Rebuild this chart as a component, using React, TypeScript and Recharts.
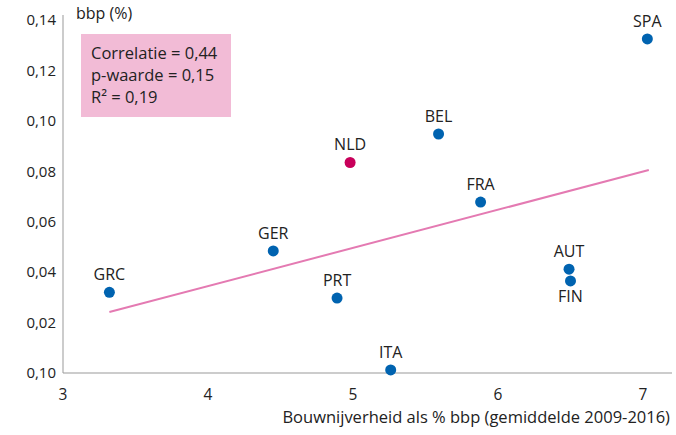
import React from "react";
import {
  ScatterChart,
  Scatter,
  XAxis,
  YAxis,
  Label,
  Customized,
} from "recharts";

const countries = ["GRC", "GER", "PRT", "NLD", "ITA", "BEL", "FRA", "AUT", "FIN", "SPA"];
const bouwPct = [3.32, 4.45, 4.89, 4.98, 5.26, 5.59, 5.88, 6.49, 6.5, 7.03];
const bbpEffect = [0.032, 0.0484, 0.0297, 0.0835, 0.0012, 0.0948, 0.0678, 0.0412, 0.0365, 0.1325];

const trendX = [3.32, 7.04];
const trendY = [0.0242, 0.0805];

const xTicks = [3, 4, 5, 6, 7];
const yTicks = [0, 0.02, 0.04, 0.06, 0.08, 0.1, 0.12, 0.14];
const yTickLabels = ["0,10", "0,02", "0,04", "0,06", "0,08", "0,10", "0,12", "0,14"];

const statLines = ["Correlatie = 0,44", "p-waarde = 0,15", "R\u00b2 = 0,19"];

const FONT = "'Open Sans', sans-serif";
const TEXT = "#222";
const BLUE = "#0063b0";
const RED = "#c8005a";

const points = countries.map((name, i) => ({
  name,
  x: bouwPct[i],
  y: bbpEffect[i],
}));

const trend = trendX.map((x, i) => ({ x, y: trendY[i] }));

function Dot(props: any) {
  const { cx, cy, payload } = props;
  const below = payload.name === "FIN";
  return (
    <g>
      <circle cx={cx} cy={cy} r={5.5} fill={payload.name === "NLD" ? RED : BLUE} />
      <text
        x={cx}
        y={below ? cy + 21 : cy - 12}
        textAnchor="middle"
        fontSize={16}
        fontFamily={FONT}
        fill={TEXT}
      >
        {payload.name}
      </text>
    </g>
  );
}

function StatsBox() {
  return (
    <g>
      <rect x={81} y={34} width={150} height={83} fill="#f2bbd6" />
      {statLines.map((s, i) => (
        <text key={s} x={91} y={59 + i * 22} fontSize={16.5} fontFamily={FONT} fill={TEXT}>
          {s}
        </text>
      ))}
      <text x={76} y={19} fontSize={16} fontFamily={FONT} fill={TEXT}>
        bbp (%)
      </text>
    </g>
  );
}

export default function App() {
  return (
    <div style={{ position: "absolute", left: 0, top: 0, background: "#fff" }}>
      <ScatterChart
        width={676}
        height={435}
        margin={{ top: 15, right: 4, bottom: 0, left: 0 }}
      >
        <XAxis
          type="number"
          dataKey="x"
          domain={[3, 7.2]}
          ticks={xTicks}
          height={62}
          tickLine={false}
          tickSize={0}
          tickMargin={16}
          axisLine={{ stroke: "#999" }}
          tick={{ fontSize: 15.5, fontFamily: FONT, fill: TEXT }}
        >
          <Label
            content={() => (
              <text
                x={670}
                y={423}
                textAnchor="end"
                fontSize={16.5}
                fontFamily={FONT}
                fill={TEXT}
              >
                Bouwnijverheid als % bbp (gemiddelde 2009-2016)
              </text>
            )}
          />
        </XAxis>
        <YAxis
          type="number"
          dataKey="y"
          domain={[0, 0.142]}
          ticks={yTicks}
          width={63}
          tickLine={false}
          tickSize={0}
          tickMargin={7}
          axisLine={{ stroke: "#999" }}
          tickFormatter={(v: number) => yTickLabels[yTicks.indexOf(v)] ?? ""}
          tick={{ fontSize: 15, fontFamily: FONT, fill: TEXT }}
        />
        <Scatter
          data={trend}
          line={{ stroke: "#e47ab2", strokeWidth: 2 }}
          shape={() => <g />}
          isAnimationActive={false}
        />
        <Scatter data={points} shape={Dot} isAnimationActive={false} />
        <Customized component={StatsBox} />
      </ScatterChart>
    </div>
  );
}
